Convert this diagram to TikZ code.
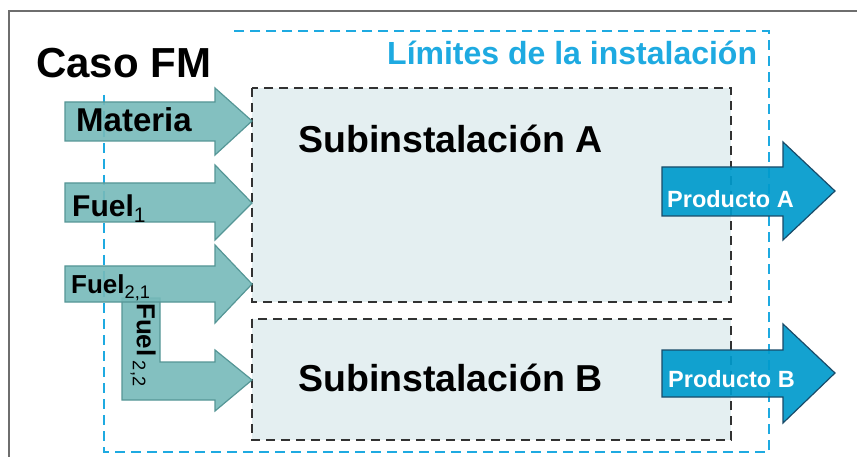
\documentclass[tikz,border=0pt]{standalone}
\usepackage{fontspec}
\setmainfont{Liberation Sans}
\definecolor{framegray}{RGB}{110,110,110}
\definecolor{limblue}{RGB}{30,170,225}
\definecolor{boxfill}{RGB}{228,239,241}
\definecolor{boxline}{RGB}{50,50,50}
\definecolor{tealfill}{RGB}{118,186,186}
\definecolor{tealline}{RGB}{85,150,150}
\definecolor{prodfill}{RGB}{0,155,205}
\definecolor{prodline}{RGB}{25,75,105}
\newcommand{\lsub}[1]{\textsubscript{\fontseries{m}\selectfont #1}}
\tikzset{
  subbox/.style={draw=boxline, fill=boxfill, line width=1.8pt, dash pattern=on 9pt off 6pt},
  limline/.style={draw=limblue, line width=1.8pt, dash pattern=on 10pt off 6pt},
  inarrow/.style={fill=tealfill, fill opacity=0.9, draw=tealline, line width=1.2pt, line join=miter},
  outarrow/.style={fill=prodfill, fill opacity=0.92, draw=prodline, line width=1.2pt, line join=miter},
  lbl/.style={font=\bfseries, text=black, inner sep=0pt, anchor=base west},
  plbl/.style={font=\fontsize{23.5}{28}\selectfont\bfseries, text=white, inner sep=0pt, anchor=base west}
}
\begin{document}
\begin{tikzpicture}[x=1pt,y=-1pt]
\useasboundingbox (0,0) rectangle (857,457);
\fill[white] (0,0) rectangle (857,457);
% outer frame
\draw[framegray, line width=2.5pt] (9,470) -- (9,11) -- (870,11);
% subinstallation boxes
\path[subbox] (252,88) rectangle (731,302);
\path[subbox] (252,319) rectangle (731,440);
% installation limits
\draw[limline] (104,95) -- (104,452) -- (769,452) -- (769,31) -- (228,31);
% input arrows
\path[inarrow] (122,298) -- (160,298) -- (160,362) -- (215,362) -- (215,350) -- (252,380) -- (215,411) -- (215,400) -- (122,400) -- cycle;
\path[inarrow] (65,102) -- (215,102) -- (215,88) -- (252,121) -- (215,155) -- (215,141) -- (65,141) -- cycle;
\path[inarrow] (65,183) -- (215,183) -- (215,165) -- (252,203) -- (215,240) -- (215,222) -- (65,222) -- cycle;
\path[inarrow] (65,266) -- (215,266) -- (215,245) -- (252,284) -- (215,323) -- (215,302) -- (65,302) -- cycle;
% output arrows
\path[outarrow] (662,167) -- (783,167) -- (783,142) -- (835,191) -- (783,240) -- (783,216) -- (662,216) -- cycle;
\path[outarrow] (662,350) -- (783,350) -- (783,324) -- (835,373) -- (783,423) -- (783,397) -- (662,397) -- cycle;
% texts
\node[lbl, font=\fontsize{42}{50}\selectfont\bfseries] (caso) at (36,78) {Caso FM};
\node[lbl, text=limblue, font=\fontsize{32}{38}\selectfont\bfseries] (lim) at (387,65) {Límites de la instalación};
\node[lbl, font=\fontsize{37.5}{44}\selectfont\bfseries] (subA) at (298,153) {Subinstalación A};
\node[lbl, font=\fontsize{37.5}{44}\selectfont\bfseries] (subB) at (298,391) {Subinstalación B};
\node[lbl, font=\fontsize{33}{38}\selectfont\bfseries] (mat) at (76,132) {Materia};
\node[lbl, font=\fontsize{30}{34}\selectfont\bfseries] (f1) at (72,217) {Fuel\lsub{1}};
\node[lbl, font=\fontsize{26}{30}\selectfont\bfseries] (f21) at (71,294) {Fuel\lsub{2,1}};
\node[lbl, anchor=north west, rotate=-90, font=\fontsize{26}{30}\selectfont\bfseries] (f22) at (156,303) {Fuel\,\lsub{2,2}};
\node[plbl] (pA) at (667,208) {Producto A};
\node[plbl] (pB) at (668,387) {Producto B};
\end{tikzpicture}
\end{document}
